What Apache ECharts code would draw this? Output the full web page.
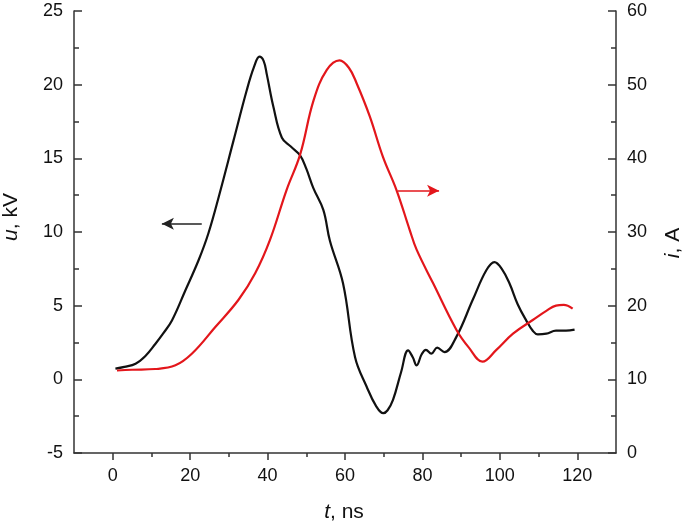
<!DOCTYPE html>
<html>
<head>
<meta charset="utf-8">
<script src="https://cdn.jsdelivr.net/npm/echarts@6/dist/echarts.min.js"></script>
<style>
html,body{margin:0;padding:0;background:#fff;}
#c{width:685px;height:524px;}
</style>
</head>
<body>
<div id="c"></div>
<script>
// Voltage u (kV) vs time t (ns)
const uTime = [0.7,3,5.9,8.5,11.0,13,15.3,18.7,22.2,24.7,27.5,31.2,34.6,36.5,37.9,39.0,39.8,41.5,43.7,46,48.4,50,51.8,54.4,56.1,59.5,62.6,65.6,68,69.9,71,72.4,74.5,76.3,77.5,78.5,79.8,80.9,82.3,83.8,85.7,88.8,93.0,96.5,98.6,100.5,102.5,104.6,106.8,108.5,109.8,112,114.5,117.1,119.3];
const uValue = [0.73,0.85,1.06,1.6,2.4,3.1,4.0,6.0,8.1,9.9,12.5,16.2,19.6,21.2,21.9,21.6,20.7,18.5,16.4,15.8,15.2,14.3,13.0,11.5,9.4,6.5,1.5,-0.5,-1.8,-2.3,-2.1,-1.4,0.5,1.97,1.5,0.95,1.7,2.0,1.74,2.15,1.85,2.9,5.4,7.4,7.96,7.5,6.5,5.1,4.0,3.3,3.05,3.1,3.3,3.3,3.37];
// Current i (A) vs time t (ns)
const iTime = [1.1,5.0,11.0,16.2,20.5,26.5,32.5,36.8,40.6,44.9,48.4,51.9,55.3,58.6,61,63.0,66.4,69.8,73.3,76.7,78.5,82.8,88.8,92,95.5,99.1,103.4,108.5,112,114.5,116.5,118.8];
const iValue = [11.2,11.3,11.4,11.9,13.5,17.1,20.8,24.4,28.9,35.7,40.5,47.9,52.0,53.3,52.3,50.2,45.7,40.2,35.7,30.3,27.6,23.0,16.7,14.3,12.4,14.0,16.2,18.05,19.3,20.0,20.1,19.6];
// Axis tick labels
const xMajorTicks = [0,20,40,60,80,100,120];
const xMinorTicks = [10,30,50,70,90,110];
// Arrows: [tStart, value] -> [tEnd, value]
const uArrow = [[23.0,10.56],[12.7,10.56]];
const iArrow = [[73.6,35.6],[84.3,35.6]];

const axisColor = '#333';
const labelFont = {fontFamily:'Liberation Sans, Arial, sans-serif', fontSize:18, color:'#111'};
const nameFont = 'Liberation Sans, Arial, sans-serif';

const chart = echarts.init(document.getElementById('c'));
chart.setOption({
  animation:false,
  backgroundColor:'#fff',
  grid:{left:74,right:69,top:11,bottom:71},
  xAxis:[{
    type:'value', min:-10, max:130,
    axisLine:{show:true,onZero:false,lineStyle:{color:axisColor,width:1.5}},
    axisTick:{show:true,inside:false,length:7,customValues:xMajorTicks,lineStyle:{color:axisColor,width:1.5}},
    axisLabel:Object.assign({customValues:xMajorTicks,margin:14},labelFont),
    splitLine:{show:false}
  },{
    type:'value', min:-10, max:130, position:'bottom',
    axisLine:{show:false,onZero:false},
    axisTick:{show:true,inside:false,length:4,customValues:xMinorTicks,lineStyle:{color:axisColor,width:1.5}},
    axisLabel:{show:false},
    splitLine:{show:false}
  }],
  yAxis:[{
    type:'value', min:-5, max:25, interval:5, position:'left',
    axisLine:{show:true,onZero:false,lineStyle:{color:axisColor,width:1.5}},
    axisTick:{show:true,inside:true,length:8,lineStyle:{color:axisColor,width:1.5}},
    minorTick:{show:true,splitNumber:2,length:5,lineStyle:{color:axisColor,width:1.5}},
    axisLabel:Object.assign({margin:11},labelFont),
    splitLine:{show:false}
  },{
    type:'value', min:0, max:60, interval:10, position:'right',
    axisLine:{show:true,onZero:false,lineStyle:{color:axisColor,width:1.5}},
    axisTick:{show:true,inside:true,length:8,lineStyle:{color:axisColor,width:1.5}},
    minorTick:{show:true,splitNumber:2,length:5,lineStyle:{color:axisColor,width:1.5}},
    axisLabel:Object.assign({margin:11},labelFont),
    splitLine:{show:false}
  }],
  series:[{
    name:'u', type:'line', xAxisIndex:0, yAxisIndex:0,
    data:uTime.map((t,k)=>[t,uValue[k]]),
    showSymbol:false, smooth:0.4,
    lineStyle:{color:'#111',width:2.2},
    markLine:{silent:true, symbol:['none','arrow'], symbolSize:[9,12],
      label:{show:false}, lineStyle:{color:'#222',width:1.5,type:'solid'},
      data:[[{coord:uArrow[0]},{coord:uArrow[1]}]]}
  },{
    name:'i', type:'line', xAxisIndex:0, yAxisIndex:1,
    data:iTime.map((t,k)=>[t,iValue[k]]),
    showSymbol:false, smooth:0.4,
    lineStyle:{color:'#e3161b',width:2.2},
    markLine:{silent:true, symbol:['none','arrow'], symbolSize:[9,12],
      label:{show:false}, lineStyle:{color:'#e3161b',width:1.5,type:'solid'},
      data:[[{coord:iArrow[0]},{coord:iArrow[1]}]]}
  }],
  graphic:[
    {type:'text', x:11, y:217, rotation:Math.PI/2,
      style:{text:'{i|u}, kV', fontFamily:nameFont, fontSize:21, fill:'#111', align:'center', verticalAlign:'middle',
        rich:{i:{fontStyle:'italic',fontFamily:nameFont,fontSize:21,fill:'#111'}}}},
    {type:'text', x:673, y:243, rotation:Math.PI/2,
      style:{text:'{i|i}, A', fontFamily:nameFont, fontSize:21, fill:'#111', align:'center', verticalAlign:'middle',
        rich:{i:{fontStyle:'italic',fontFamily:nameFont,fontSize:21,fill:'#111'}}}},
    {type:'text', x:344, y:512,
      style:{text:'{i|t}, ns', fontFamily:nameFont, fontSize:21, fill:'#111', align:'center', verticalAlign:'middle',
        rich:{i:{fontStyle:'italic',fontFamily:nameFont,fontSize:21,fill:'#111'}}}}
  ]
});
</script>
</body>
</html>
